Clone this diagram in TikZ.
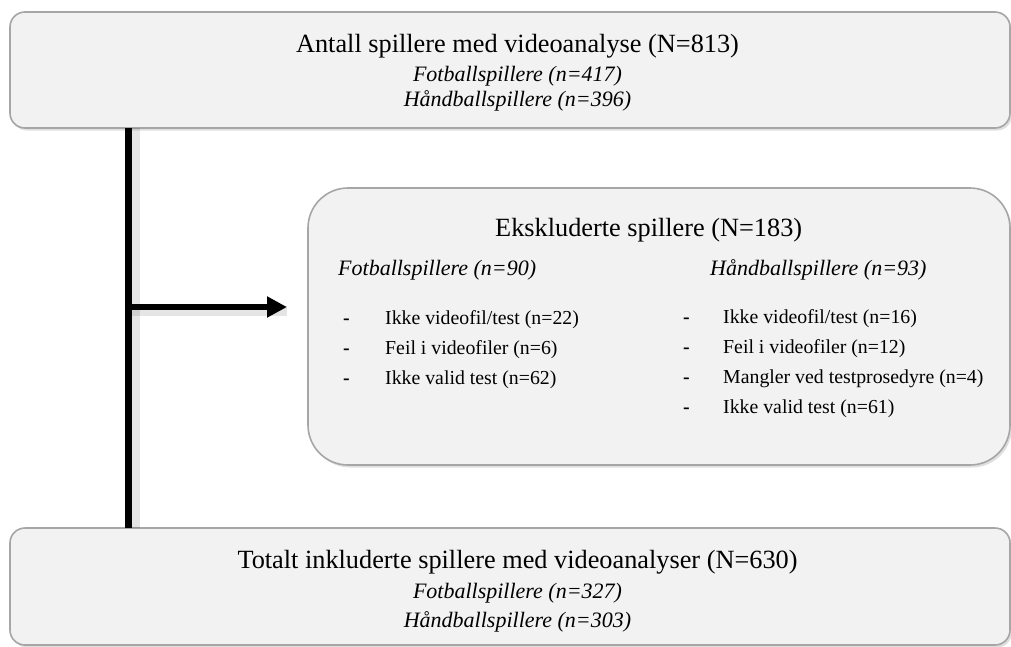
\documentclass[tikz,border=0pt]{standalone}
\usepackage{fontspec}
\setmainfont{Liberation Serif}
\usetikzlibrary{shadows,arrows.meta}
\definecolor{boxfill}{HTML}{F2F2F2}
\definecolor{boxline}{HTML}{A6A6A6}
\begin{document}
\begin{tikzpicture}[x=1pt,y=-1pt,
  box/.style={draw=boxline, line width=1.6pt, fill=boxfill, rounded corners=15pt,
    drop shadow={shadow xshift=2pt,shadow yshift=-2.5pt,opacity=0.25},
    inner sep=0pt, outer sep=0pt, anchor=north west},
  spine/.style={line width=6.5pt, black},
  spineshadow/.style={line width=12pt, black, opacity=0.10},
  arrowline/.style={line width=6pt, black, -{Triangle[length=20pt,width=20pt]}},
  titletext/.style={font=\fontsize{26.3}{30}\selectfont, inner sep=0pt, anchor=base},
  subtext/.style={font=\fontsize{22}{26}\selectfont\itshape, inner sep=0pt, anchor=base},
  itemtext/.style={font=\fontsize{19.8}{24}\selectfont, inner sep=0pt, anchor=base west},
  dashtext/.style={font=\fontsize{19.8}{24}\selectfont\bfseries, inner sep=0pt, anchor=base west}
]
\useasboundingbox (0,0) rectangle (1011,646);

% shadows of connectors
\coordinate (sx) at (128.5,0);
\coordinate (sxs) at (134,0);
\coordinate (branch) at (128.5,307);
\coordinate (branchs) at (131,311);

% boxes
\node[box, minimum width=1000pt, minimum height=116pt] (top) at (10,12) {};
\node[box, rounded corners=40pt, minimum width=702pt, minimum height=277pt] (mid) at (308,188) {};
\node[box, minimum width=1000pt, minimum height=117pt] (bot) at (10,528) {};

% connectors
\draw[spineshadow] (top.south -| sxs) -- (bot.north -| sxs);
\draw[spineshadow, line width=10pt, shorten >=21pt] (branchs) -- (mid.west |- branchs);
\draw[spine] (top.south -| sx) -- (bot.north -| sx);
\draw[arrowline, shorten >=21pt] (branch) -- (mid.west |- branch);

% top box text
\node[titletext] (t1) at (517.5,52) {Antall spillere med videoanalyse (N=813)};
\node[subtext] (t2) at (517.5,81) {Fotballspillere (n=417)};
\node[subtext] (t3) at (517.5,106) {Håndballspillere (n=396)};

% middle box text
\node[titletext, anchor=base west] (m1) at (495,236) {Ekskluderte spillere (N=183)};
\node[subtext, anchor=base west] (mf) at (338,275) {Fotballspillere (n=90)};
\node[subtext, anchor=base west] (mh) at (710,275) {Håndballspillere (n=93)};

\node[dashtext] (fd1) at (343,324) {-};
\node[dashtext] (fd2) at (343,354) {-};
\node[dashtext] (fd3) at (343,384) {-};
\node[itemtext] (fi1) at (385,324) {Ikke videofil/test (n=22)};
\node[itemtext] (fi2) at (385,354) {Feil i videofiler (n=6)};
\node[itemtext] (fi3) at (385,384) {Ikke valid test (n=62)};

\node[dashtext] (hd1) at (683,323) {-};
\node[dashtext] (hd2) at (683,353) {-};
\node[dashtext] (hd3) at (683,383) {-};
\node[dashtext] (hd4) at (683,413) {-};
\node[itemtext] (hi1) at (723,323) {Ikke videofil/test (n=16)};
\node[itemtext] (hi2) at (723,353) {Feil i videofiler (n=12)};
\node[itemtext] (hi3) at (723,383) {Mangler ved testprosedyre (n=4)};
\node[itemtext] (hi4) at (723,413) {Ikke valid test (n=61)};

% bottom box text
\node[titletext] (b1) at (517.5,568) {Totalt inkluderte spillere med videoanalyser (N=630)};
\node[subtext] (b2) at (517.5,598) {Fotballspillere (n=327)};
\node[subtext] (b3) at (517.5,627) {Håndballspillere (n=303)};
\end{tikzpicture}
\end{document}
